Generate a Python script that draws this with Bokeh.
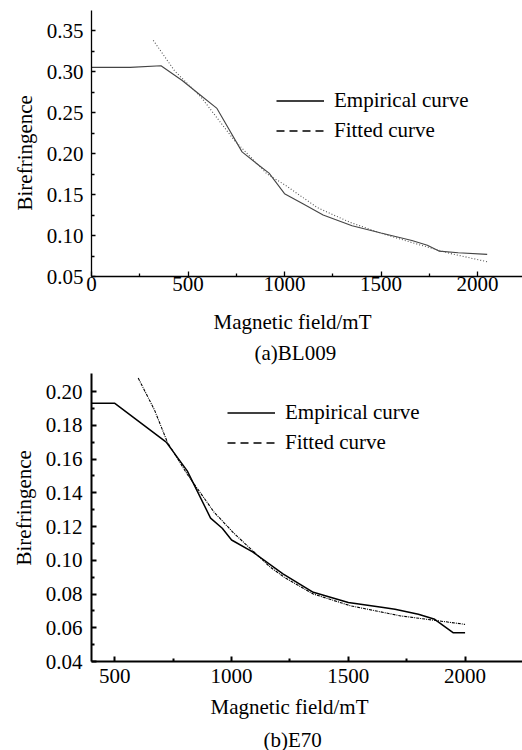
from bokeh.plotting import figure
from bokeh.models import FixedTicker, Legend, LegendItem, Title, Range1d
from bokeh.layouts import column
from bokeh.embed import file_html
from bokeh.resources import INLINE

FONT = "Liberation Serif"
FS = "21px"

# ---------------- (a) BL009 ----------------
a_emp_x = [0, 200, 360, 470, 560, 650, 780, 870, 920, 1000, 1100, 1200, 1350, 1500, 1660, 1740, 1800, 1900, 2050]
a_emp_y = [0.305, 0.305, 0.307, 0.289, 0.272, 0.255, 0.202, 0.185, 0.176, 0.151, 0.138, 0.125,
           0.112, 0.103, 0.094, 0.088, 0.081, 0.079, 0.077]
a_fit_x = [320, 430, 570, 740, 910, 1000, 1170, 1340, 1510, 1680, 1860, 2050]
a_fit_y = [0.338, 0.301, 0.268, 0.216, 0.175, 0.162, 0.134, 0.116, 0.102, 0.090, 0.078, 0.068]
a_xticks = [0, 500, 1000, 1500, 2000]
a_xtick_labels = ["0", "500", "1000", "1500", "2000"]
a_yticks = [0.05, 0.10, 0.15, 0.20, 0.25, 0.30, 0.35]
a_ytick_labels = ["0.05", "0.10", "0.15", "0.20", "0.25", "0.30", "0.35"]
a_caption = "(a)BL009"

# ---------------- (b) E70 ----------------
b_emp_x = [400, 500, 720, 810, 910, 960, 1000, 1090, 1220, 1350, 1500, 1650, 1700, 1800, 1870, 1910, 1950, 2000]
b_emp_y = [0.193, 0.193, 0.170, 0.153, 0.125, 0.119, 0.112, 0.105, 0.092, 0.081, 0.075, 0.072,
           0.071, 0.068, 0.065, 0.061, 0.057, 0.057]
b_fit_x = [600, 670, 725, 810, 925, 1010, 1165, 1225, 1350, 1510, 1725, 1865, 2000]
b_fit_y = [0.208, 0.189, 0.170, 0.151, 0.1285, 0.116, 0.096, 0.090, 0.080, 0.073, 0.067, 0.0645, 0.062]
b_xticks = [500, 1000, 1500, 2000]
b_xtick_labels = ["500", "1000", "1500", "2000"]
b_yticks = [0.04, 0.06, 0.08, 0.10, 0.12, 0.14, 0.16, 0.18, 0.20]
b_ytick_labels = ["0.04", "0.06", "0.08", "0.10", "0.12", "0.14", "0.16", "0.18", "0.20"]
b_caption = "(b)E70"

X_LABEL = "Magnetic field/mT"
Y_LABEL = "Birefringence"
LEG_EMP = "Empirical curve"
LEG_FIT = "Fitted curve"
NAN = [float("nan")]


def mids(t):
    return [(t[i] + t[i + 1]) / 2 for i in range(len(t) - 1)]


def title(text, offset, standoff, valign):
    return Title(text=text, align="left", offset=offset, standoff=standoff,
                 vertical_align=valign, text_font=FONT, text_font_size=FS,
                 text_font_style="normal", text_color="black")


def make_chart(emp_x, emp_y, fit_x, fit_y, xr, yr, xt, xtl, yt, ytl, caption,
               height, border_left, border_top, frame_h, axis_w, emp_style, fit_style,
               leg_loc, x_std, y_std, ytick_in, xlab, cap, ylab):
    p = figure(width=522, height=height, output_backend="svg", toolbar_location=None,
               x_range=Range1d(*xr), y_range=Range1d(*yr),
               min_border_left=border_left, min_border_right=0, min_border_top=border_top,
               min_border_bottom=height - border_top - frame_h)
    p.outline_line_color = None
    p.background_fill_color = "white"
    p.border_fill_color = "white"
    p.grid.visible = False

    p.line(emp_x, emp_y, **emp_style)
    p.line(fit_x, fit_y, **fit_style)

    # legend-only sample renderers (draw nothing in the plot)
    r_emp = p.line(x=NAN, y=NAN, line_color="black", line_width=1.3)
    r_fit = p.line(x=NAN, y=NAN, line_color="black", line_width=1.3, line_dash="8 5")
    leg = Legend(items=[LegendItem(label=LEG_EMP, renderers=[r_emp]),
                        LegendItem(label=LEG_FIT, renderers=[r_fit])],
                 location=leg_loc, background_fill_alpha=0, border_line_color=None,
                 padding=0, margin=0, spacing=5, glyph_width=48, glyph_height=21,
                 label_height=21, label_standoff=10,
                 label_text_font=FONT, label_text_font_size=FS, label_text_color="black")
    p.add_layout(leg, "center")

    for ax in (p.xaxis[0], p.yaxis[0]):
        ax.axis_line_width = axis_w
        ax.axis_line_color = "black"
        ax.major_tick_line_color = "black"
        ax.minor_tick_line_color = "black"
        ax.major_tick_line_width = axis_w
        ax.minor_tick_line_width = axis_w
        ax.major_tick_in = 5
        ax.major_tick_out = 0
        ax.minor_tick_in = 3
        ax.minor_tick_out = 0
        ax.major_label_text_font = FONT
        ax.major_label_text_font_size = FS
        ax.major_label_text_color = "black"

    p.xaxis[0].ticker = FixedTicker(ticks=xt, minor_ticks=mids(xt))
    p.xaxis[0].major_label_overrides = {v: s for v, s in zip(xt, xtl)}
    p.xaxis[0].major_label_standoff = x_std
    p.yaxis[0].ticker = FixedTicker(ticks=yt, minor_ticks=mids(yt))
    p.yaxis[0].major_label_overrides = {v: s for v, s in zip(yt, ytl)}
    p.yaxis[0].major_label_standoff = y_std
    p.yaxis[0].major_tick_in = ytick_in

    p.add_layout(title(X_LABEL, *xlab), "below")
    p.add_layout(title(caption, *cap), "below")
    p.add_layout(title(Y_LABEL, *ylab), "left")
    return p


pa = make_chart(a_emp_x, a_emp_y, a_fit_x, a_fit_y, (0, 2233), (0.05, 0.3744),
                a_xticks, a_xtick_labels, a_yticks, a_ytick_labels, a_caption,
                height=366, border_left=90, border_top=10, frame_h=266, axis_w=1.3,
                emp_style=dict(line_color="#444444", line_width=1.1),
                fit_style=dict(line_color="#555555", line_width=1.1, line_dash="1 2"),
                leg_loc=(185, 133), x_std=0, y_std=8, ytick_in=4,
                xlab=(122, 30, "middle"), cap=(163, -20, "middle"), ylab=(66, 12, "middle"))

pb = make_chart(b_emp_x, b_emp_y, b_fit_x, b_fit_y, (400, 2246), (0.04, 0.2107),
                b_xticks, b_xtick_labels, b_yticks, b_ytick_labels, b_caption,
                height=384, border_left=91, border_top=7, frame_h=288, axis_w=2,
                emp_style=dict(line_color="black", line_width=1.5),
                fit_style=dict(line_color="black", line_width=1.1, line_dash="3 1 1 1"),
                leg_loc=(136, 206), x_std=7, y_std=9, ytick_in=5,
                xlab=(119, 16, "middle"), cap=(172, -4, "bottom"), ylab=(96, 12, "middle"))

layout = column(pa, pb, spacing=0)
open("out.html", "w").write(file_html(layout, INLINE))
